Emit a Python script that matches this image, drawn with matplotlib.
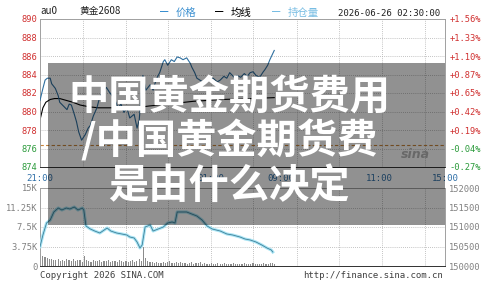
import matplotlib
matplotlib.use("Agg")
import matplotlib.pyplot as plt
from matplotlib.patches import Rectangle

plt.rcParams['font.family'] = ['Noto Sans CJK SC', 'DejaVu Sans']

# ---------------- data ----------------
price_min = [0, 4, 7, 10, 14, 16, 21, 25, 27, 32, 37, 40, 43, 47, 50, 53, 57, 62, 66, 69,
             73, 78, 82, 86, 91, 95, 98, 103, 107, 111, 115, 119, 123, 129, 133, 136, 138,
             141, 145, 151, 155, 159, 162, 164, 169, 171, 175, 180, 184, 188, 192, 196,
             201, 206, 208, 212, 215, 219, 223, 227, 233, 237, 243, 247, 252, 256, 260,
             266, 270, 275, 280, 284, 288, 292, 296, 301, 306, 308, 312, 315, 318, 321]
price_val = [881.2, 882.5, 883.4, 883.6, 883.6, 883.0, 882.5, 881.7, 881.0, 880.6, 880.2,
             880.8, 880.7, 879.7, 878.9, 877.8, 876.9, 877.5, 878.2, 878.5, 879.5, 880.4,
             881.6, 882.1, 882.6, 882.1, 881.8, 881.2, 880.4, 880.8, 879.9, 880.4, 879.3,
             879.7, 878.2, 879.1, 881.2, 883.9, 882.3, 882.9, 882.3, 883.4, 883.9, 884.2,
             885.4, 885.6, 885.0, 885.6, 885.4, 885.9, 885.8, 885.6, 885.8, 885.2, 884.8,
             884.2, 883.6, 883.4, 883.2, 883.5, 883.4, 883.6, 883.2, 883.4, 883.8, 883.6,
             884.2, 883.7, 883.9, 883.7, 884.1, 883.8, 884.2, 884.3, 883.9, 883.7, 884.3,
             884.5, 885.0, 885.6, 886.1, 886.6]
avg_min = [0, 4, 8, 14, 20, 27, 36, 45, 55, 68, 80, 95, 110, 130, 150, 175, 210, 250, 290, 321]
avg_val = [879.1, 880.4, 881.0, 881.3, 881.4, 881.4, 881.2, 881.0, 880.7, 880.5, 880.4,
           880.4, 880.4, 880.4, 880.6, 880.8, 881.1, 881.3, 881.4, 881.5]
oi_min = [0, 4, 9, 14, 19, 25, 30, 36, 41, 47, 52, 58, 60, 63, 69, 75, 82, 88, 92, 97, 105,
          112, 119, 123, 129, 133, 137, 140, 144, 151, 155, 162, 169, 175, 181, 185, 188,
          195, 201, 208, 215, 222, 229, 236, 247, 256, 264, 274, 281, 288, 296, 304, 311,
          317, 319]
oi_val = [150495, 150795, 151103, 151180, 151385, 151487, 151436, 151487, 151462, 151513,
          151436, 151487, 151436, 151026, 150949, 150897, 150846, 150923, 150974, 150897,
          150846, 150821, 150795, 150744, 150718, 150615, 150462, 150538, 151000, 151051,
          150897, 150949, 151000, 151103, 151128, 151103, 151385, 151385, 151385, 151333,
          151282, 151180, 151026, 150949, 150897, 150821, 150795, 150744, 150692, 150667,
          150615, 150538, 150462, 150410, 150359]
vol_min = list(range(0, 322, 3))
vol_val = [2400, 2000, 1800, 1500, 1300, 1400, 1200,
           1100, 1300, 900, 1200, 1000, 1400, 1100, 900, 1300, 1000, 1200, 1100, 800,
           1900, 1200, 1000, 800, 1100, 900, 1000, 1200, 800, 1000, 900, 1100, 700, 900,
           1000, 800, 1200, 900, 700, 1000, 800, 900, 1100, 700, 1000, 1300, 900, 3600,
           1500, 900, 700, 800, 600, 700, 500, 600, 800, 500, 700, 900, 600, 500, 800,
           600, 700, 500, 600, 400, 500, 700, 400, 500, 600, 800, 400, 500, 300, 400, 500,
           300, 400, 600, 300, 400, 500, 300, 400, 300, 500, 400, 300, 400, 300, 500, 300,
           400, 300, 500, 400, 300, 400, 300, 600, 400, 300, 500, 600, 400]
price_ticks = [874, 876, 878, 880, 882, 884, 886, 888, 890]
pct_labels = ["-0.27%", "-0.04%", "+0.19%", "+0.42%", "+0.65%", "+0.87%", "+1.10%",
              "+1.33%", "+1.56%"]
ref_price = 876.4
vol_ticks = [0, 3750, 7500, 11250, 15000]
vol_labels = ["0", "3.75K", "7.5K", "11.25K", "15K"]
oi_ticks = [150000, 150500, 151000, 151500, 152000]
time_ticks = [0, 234, 330, 465, 555]
time_labels = ["21:00", "01:00", "09:00", "11:00", "15:00"]
vgrid = [59, 118, 176, 235, 292, 352, 410, 469, 528]
title_lines = ["中国黄金期货费用", "/中国黄金期货费", "是由什么决定"]

# ---------------- figure ----------------
W, H = 495, 290
fig = plt.figure(figsize=(W / 100, H / 100), dpi=100)
fig.patch.set_facecolor("white")

def fx(px):
    return px / W

def fy(py):
    return 1 - py / H

mono = "DejaVu Sans Mono"
red = "#d03030"
green = "#2a9a3a"
tcol = "#3070a8"
gcol = "#808080"

ax1 = fig.add_axes([fx(40), fy(167), fx(445) - fx(40), fy(19) - fy(167)])
ax1.set_xlim(0, 555)
ax1.set_ylim(874, 890)
for v in vgrid:
    ax1.axvline(v, color="#b0b0b0", lw=0.6, ls=(0, (1, 1.5)), zorder=0)
for t in price_ticks:
    ax1.axhline(t, color="#b0b0b0", lw=0.6, ls=(0, (1, 1.5)), zorder=0)
ax1.axhline(ref_price, color="#c8843c", lw=0.8, ls=(0, (3, 2)), zorder=1)
ax1.plot(avg_min, avg_val, color="black", lw=0.8, zorder=2)
ax1.plot(price_min, price_val, color="#2f6f9f", lw=0.8, zorder=3)
ax1.set_yticks(price_ticks)
ax1.set_yticklabels([str(t) for t in price_ticks], fontfamily=mono, fontsize=6.3)
for lab, t in zip(ax1.get_yticklabels(), price_ticks):
    lab.set_color(red if t > ref_price else green)
ax1.set_xticks(time_ticks)
ax1.set_xticklabels(time_labels, fontfamily=mono, fontsize=6.5, color=tcol)
ax1.tick_params(axis="y", length=0, pad=2)
ax1.tick_params(axis="x", length=0, pad=5)
for s in ax1.spines.values():
    s.set_color("#a0a0a0")
    s.set_linewidth(0.7)
ax1.spines["bottom"].set_color("#303030")

ax1r = ax1.twinx()
ax1r.set_ylim(874, 890)
ax1r.set_yticks(price_ticks)
ax1r.set_yticklabels(pct_labels, fontfamily=mono, fontsize=6.3)
for lab, p in zip(ax1r.get_yticklabels(), pct_labels):
    lab.set_color(red if p.startswith("+") else green)
ax1r.tick_params(length=0, pad=3)
for s in ax1r.spines.values():
    s.set_visible(False)

ax1.text(0.0, 1.02, "au0", transform=ax1.transAxes, fontsize=7, color="#202020",
         va="bottom", ha="left")
ax1.text(fx(88) - fx(40), 1.02, "黄金2608", transform=ax1.transAxes, fontsize=7,
         color="#202020", va="bottom", ha="left")
fig.text(fx(160), fy(13), "━", fontsize=6, color="#3a8fd0", va="center", ha="left")
fig.text(fx(176), fy(13), "价格", fontsize=7.5, color="#3a8fd0", va="center", ha="left")
fig.text(fx(215), fy(13), "━", fontsize=6, color="black", va="center", ha="left")
fig.text(fx(231), fy(13), "均线", fontsize=7.5, color="black", va="center", ha="left")
fig.text(fx(272), fy(13), "━", fontsize=6, color="#78bde3", va="center", ha="left")
fig.text(fx(288), fy(13), "持仓量", fontsize=7.5, color="#78bde3", va="center", ha="left")
fig.text(fx(338), fy(14), "2026-06-26 02:30:00", fontfamily=mono, fontsize=6.5,
         color="#202020", va="center", ha="left")

ax2 = fig.add_axes([fx(40), fy(266), fx(445) - fx(40), fy(188) - fy(266)])
ax2.set_xlim(0, 555)
ax2.set_ylim(0, 15000)
for v in vgrid:
    ax2.axvline(v, color="#b0b0b0", lw=0.6, ls=(0, (1, 1.5)), zorder=0)
for t in vol_ticks:
    ax2.axhline(t, color="#b0b0b0", lw=0.6, ls=(0, (1, 1.5)), zorder=0)
ax2.bar(vol_min, vol_val, width=1.6, color="#8c8c8c", align="edge", zorder=2)
ax2.set_yticks(vol_ticks)
ax2.set_yticklabels(vol_labels, fontfamily=mono, fontsize=6.3, color=gcol)
ax2.set_xticks([])
ax2.tick_params(length=0, pad=2)
for s in ax2.spines.values():
    s.set_color("#a0a0a0")
    s.set_linewidth(0.7)
ax2.spines["bottom"].set_color("#303030")

ax2r = ax2.twinx()
ax2r.set_ylim(150000, 152000)
ax2r.plot(oi_min, oi_val, color="#a8e4f4", lw=2.2, zorder=3)
ax2r.plot(oi_min, oi_val, color="#3f7f98", lw=0.6, zorder=4)
ax2r.set_xlim(0, 555)
ax2r.set_yticks(oi_ticks)
ax2r.set_yticklabels([str(t) for t in oi_ticks], fontfamily=mono, fontsize=6.3, color=gcol)
ax2r.tick_params(length=0, pad=3)
for s in ax2r.spines.values():
    s.set_visible(False)

fig.text(fx(40), fy(276), "Copyright 2026 SINA.COM", fontfamily=mono, fontsize=6.5,
         color="#404040", va="center", ha="left")
fig.text(fx(443), fy(276), "http://finance.sina.com.cn", fontfamily=mono, fontsize=6.5,
         color="#404040", va="center", ha="right")
fig.text(fx(415), fy(155), "sina", fontsize=9, fontstyle="italic", fontweight="bold",
         color="#b8b8b8", va="center", ha="center", family="DejaVu Sans")

# overlay banner
fig.patches.append(Rectangle((fx(48), fy(225)), fx(445) - fx(48), fy(63) - fy(225),
                             transform=fig.transFigure, facecolor="black", alpha=0.43,
                             edgecolor="none", zorder=10))
for line, yc in zip(title_lines, [98, 141, 186]):
    fig.text(fx(229), fy(yc), line, fontsize=29, fontweight="bold", color="white",
             ha="center", va="center", zorder=11)

fig.savefig("out.png", dpi=100)
